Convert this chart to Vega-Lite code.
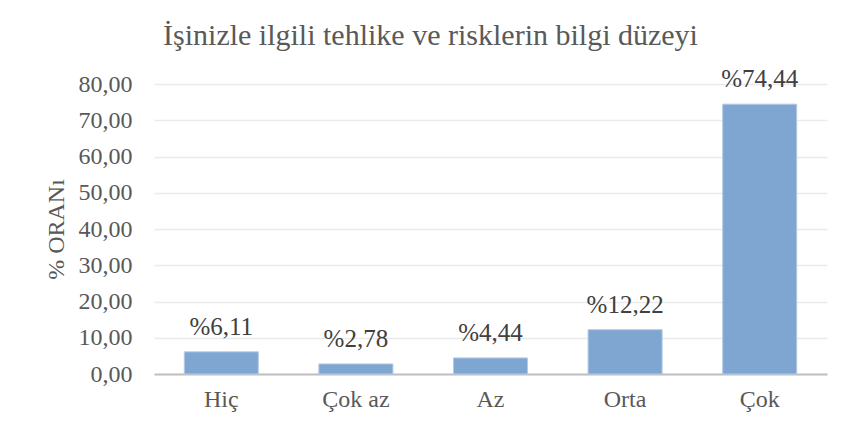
{
  "$schema": "https://vega.github.io/schema/vega-lite/v6.json",
  "autosize": {"type": "none"},
  "width": 673,
  "height": 290,
  "padding": {"left": 154, "top": 84, "right": 19, "bottom": 65},
  "background": "white",
  "config": {
    "locale": {"number": {"decimal": ",", "thousands": ".", "grouping": [3], "currency": ["%", ""]}},
    "view": {"stroke": null},
    "font": "Liberation Serif"
  },
  "title": {
    "text": "İşinizle ilgili tehlike ve risklerin bilgi düzeyi",
    "font": "Liberation Serif",
    "fontSize": 30,
    "fontWeight": "normal",
    "color": "#595959",
    "anchor": "middle",
    "dx": -60,
    "offset": 16
  },
  "data": {
    "values": [
      {"kategori": "Hiç", "oran": 6.11},
      {"kategori": "Çok az", "oran": 2.78},
      {"kategori": "Az", "oran": 4.44},
      {"kategori": "Orta", "oran": 12.22},
      {"kategori": "Çok", "oran": 74.44}
    ]
  },
  "encoding": {
    "x": {
      "field": "kategori",
      "type": "nominal",
      "sort": null,
      "scale": {"paddingInner": 0.45, "paddingOuter": 0.225},
      "axis": {
        "title": null,
        "labelAngle": 0,
        "labelFont": "Liberation Serif",
        "labelFontSize": 24,
        "labelColor": "#595959",
        "labelPadding": 13,
        "ticks": false,
        "domainColor": "#BFBFBF",
        "domainWidth": 2,
        "grid": false
      }
    },
    "y": {
      "field": "oran",
      "type": "quantitative",
      "scale": {"domain": [0, 80], "nice": false},
      "axis": {
        "title": "% ORANı",
        "titleFont": "Liberation Serif",
        "titleFontSize": 24,
        "titleFontWeight": "normal",
        "titleColor": "#595959",
        "titlePadding": 10,
        "values": [0, 10, 20, 30, 40, 50, 60, 70, 80],
        "format": ".2f",
        "labelFont": "Liberation Serif",
        "labelFontSize": 24,
        "labelColor": "#595959",
        "labelPadding": 22,
        "ticks": false,
        "domain": false,
        "gridColor": "#EBEBEB",
        "gridWidth": 1.5
      }
    }
  },
  "layer": [
    {"mark": {"type": "bar", "color": "#7EA6D1", "stroke": "#B4CBE6", "strokeWidth": 1}},
    {
      "mark": {"type": "text", "baseline": "alphabetic", "dy": -17, "fontSize": 25, "font": "Liberation Serif", "color": "#404040"},
      "encoding": {"text": {"field": "oran", "type": "quantitative", "format": "$.2f"}}
    }
  ]
}
